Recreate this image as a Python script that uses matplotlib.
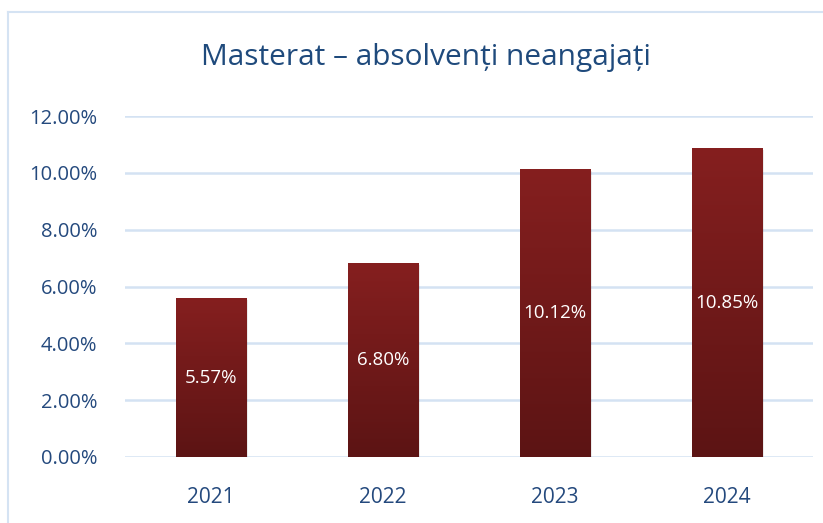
import matplotlib
matplotlib.use("Agg")
import matplotlib.pyplot as plt
import numpy as np
from matplotlib.lines import Line2D
from matplotlib.colors import LinearSegmentedColormap

years = ["2021", "2022", "2023", "2024"]
values = [5.57, 6.80, 10.12, 10.85]
yticks = [0, 2, 4, 6, 8, 10, 12]
title = "Masterat – absolvenți neangajați"

W, H = 823, 523
fig = plt.figure(figsize=(W/100, H/100), dpi=100)
fig.patch.set_facecolor("white")
plt.rcParams['font.family'] = ['Open Sans', 'DejaVu Sans']

frame_c = "#D5E3F3"
fig.add_artist(Line2D([8/W, 8/W], [0, 1-12/H], color=frame_c, lw=1.5, transform=fig.transFigure))
fig.add_artist(Line2D([8/W, 1], [1-12/H, 1-12/H], color=frame_c, lw=1.5, transform=fig.transFigure))

ax = fig.add_axes([125/W, 66/H, 688/W, 341/H])
text_c = "#24497D"
for t in yticks:
    ax.axhline(t, color="#D4E2F3", lw=1.8, zorder=0)
for s in ax.spines.values():
    s.set_visible(False)
ax.set_yticks(yticks)
ax.set_yticklabels([f"{t:.2f}%" for t in yticks], color=text_c, fontsize=14.5)
ax.set_xticks(range(len(years)))
ax.set_xticklabels(years, color=text_c, fontsize=15)
ax.tick_params(length=0)
ax.tick_params(axis='y', pad=20)
ax.tick_params(axis='x', pad=21.5)

x = np.arange(len(years))
bars = ax.bar(x, values, width=0.407, color="none", zorder=2)
grad = np.linspace(0, 1, 256).reshape(-1, 1)
cmap = LinearSegmentedColormap.from_list("g", ["#5C1414", "#851F1F"])
for b, v in zip(bars, values):
    x0 = b.get_x(); w = b.get_width()
    ax.bar(x0 + w/2 + 0.006, v, width=w + 0.01, bottom=-0.05, color="#000000", alpha=0.08, zorder=1.5)
    ax.imshow(grad, extent=[x0, x0+w, 0, v], origin='lower', cmap=cmap, aspect='auto', zorder=2.5)
    ax.text(x0 + w/2, v/2, f"{v:.2f}%", ha='center', va='center', color="white", fontsize=13.5, zorder=3)
ax.set_xlim(-0.5, len(years)-0.5)
ax.set_ylim(0, 12)

fig.text(426/W, 1-57/H, title, ha='center', va='center', color="#1F4A7C", fontsize=21.5)

fig.savefig("out.png", dpi=100)
